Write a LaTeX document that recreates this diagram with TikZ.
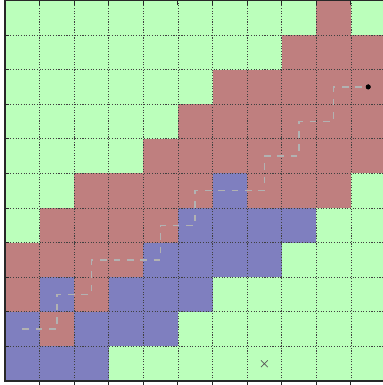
\documentclass[tikz,border=0pt]{standalone}
\usetikzlibrary{shapes.misc}
\definecolor{cellgreen}{RGB}{187,255,187}
\definecolor{cellred}{RGB}{191,127,127}
\definecolor{cellblue}{RGB}{127,127,191}
\definecolor{pathgray}{RGB}{178,178,178}
\definecolor{spinec}{RGB}{40,40,40}
\tikzset{
  redcell/.style={fill=cellred},
  bluecell/.style={fill=cellblue},
  gridline/.style={draw=black!75, line width=0.55pt, dash pattern=on 0.9pt off 1.3pt},
  spine/.style={draw=spinec, line width=1.1pt},
  tickmark/.style={draw=spinec, line width=0.8pt},
  route/.style={draw=pathgray, line width=1.2pt, dash pattern=on 5.5pt off 5.5pt},
  goalmark/.style={circle, fill=black, inner sep=0pt, minimum size=4pt},
  startmark/.style={cross out, draw=black!65, line width=0.6pt, inner sep=0pt, minimum size=5pt}
}
\begin{document}
\begin{tikzpicture}[x=1cm,y=1cm]
\useasboundingbox (-0.1416,-0.115) rectangle (10.927,11.012);
\begin{scope}
\clip (-0.1416,-0.115) rectangle (10.927,11.012);
% background cells
\fill[cellgreen] (0,0) rectangle (11,11);
% red cells: row/first col/last col
\foreach \r/\a/\b in {1/1/1, 2/0/0, 2/2/2, 3/0/3, 4/1/4, 5/2/5, 5/7/9, 6/4/10, 7/5/10, 8/6/10, 9/8/10, 10/9/9}
  \fill[redcell] (\a,\r) rectangle ({\b+1},{\r+1});
% blue cells
\foreach \r/\a/\b in {0/0/2, 1/0/0, 1/2/4, 2/1/1, 2/3/5, 3/4/7, 4/5/8, 5/6/6}
  \fill[bluecell] (\a,\r) rectangle ({\b+1},{\r+1});
% grid
\draw[gridline] (0,0) grid (11,11);
% route
\coordinate (p0) at (0.5,1.5);
\coordinate (p1) at (1.5,1.5);
\coordinate (p2) at (1.5,2.5);
\coordinate (p3) at (2.5,2.5);
\coordinate (p4) at (2.5,3.5);
\coordinate (p5) at (4.5,3.5);
\coordinate (p6) at (4.5,4.5);
\coordinate (p7) at (5.5,4.5);
\coordinate (p8) at (5.5,5.5);
\coordinate (p9) at (7.5,5.5);
\coordinate (p10) at (7.5,6.5);
\coordinate (p11) at (8.5,6.5);
\coordinate (p12) at (8.5,7.5);
\coordinate (p13) at (9.5,7.5);
\coordinate (p14) at (9.5,8.5);
\node[goalmark] (goal) at (10.5,8.5) {};
\node[startmark] (start) at (7.5,0.5) {};
\draw[route] (p0) -- (p1) -- (p2) -- (p3) -- (p4) -- (p5) -- (p6) -- (p7) -- (p8) -- (p9) -- (p10) -- (p11) -- (p12) -- (p13) -- (p14) -- (goal.center);
\node[goalmark] at (goal) {};
% spines
\draw[spine] (0,11) -- (0,0) -- (11,0);
\draw[spine] (0,11) -- (11,11);
% ticks
\foreach \t in {1,...,10} {
  \draw[tickmark] (0,\t) -- (0.12,\t);
  \draw[tickmark] (\t,0) -- (\t,-0.12);
  \draw[tickmark] (\t,11) -- (\t,10.88);
}
\end{scope}
\end{tikzpicture}
\end{document}
